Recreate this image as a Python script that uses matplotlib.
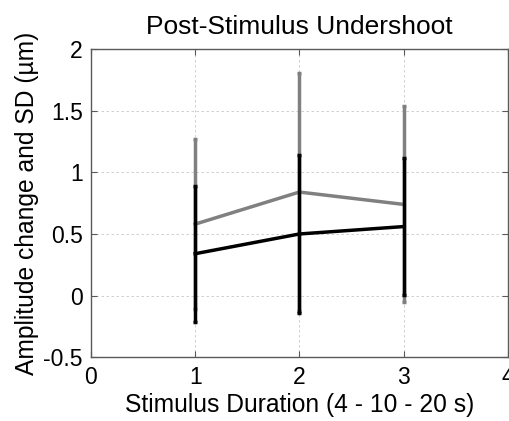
import matplotlib
matplotlib.use("Agg")
import matplotlib.pyplot as plt

# Stimulus duration index (4 s, 10 s, 20 s)
durations = [1, 2, 3]

# Amplitude change and SD, two conditions
gray_mean = [0.58, 0.84, 0.74]
gray_sd = [0.69, 0.965, 0.795]
black_mean = [0.34, 0.50, 0.56]
black_sd = [0.55, 0.64, 0.555]

x_ticks = [0, 1, 2, 3, 4]
y_ticks = [-0.5, 0, 0.5, 1, 1.5, 2]
y_tick_labels = ["-0.5", "0", "0.5", "1", "1.5", "2"]

plt.rcParams["font.family"] = ["Liberation Sans", "DejaVu Sans"]

fig = plt.figure(figsize=(5.1, 4.21), dpi=100)
ax = fig.add_axes([0.1784, 0.1513, 0.8171, 0.7323])

ax.errorbar(durations, gray_mean, yerr=gray_sd, color="#808080", lw=2.5,
            elinewidth=2.5, capsize=1.3, capthick=2.5, zorder=3)
ax.errorbar(durations, black_mean, yerr=black_sd, color="black", lw=2.5,
            elinewidth=2.5, capsize=1.3, capthick=2.5, zorder=4)

ax.set_xlim(0, 4)
ax.set_ylim(-0.5, 2)
ax.set_xticks(x_ticks)
ax.set_yticks(y_ticks)
ax.set_yticklabels(y_tick_labels)

ax.grid(True, color="#c8c8c8", linestyle=(0, (3, 3)), linewidth=0.6)
ax.set_axisbelow(True)
for s in ax.spines.values():
    s.set_color("#5a5a5a")
    s.set_linewidth(1.0)
ax.tick_params(direction="in", length=4, width=0.8, color="#5a5a5a",
               labelsize=16.5, top=True, right=True, pad=6)

ax.set_title("Post-Stimulus Undershoot", fontsize=19, pad=11)
ax.set_xlabel("Stimulus Duration (4 - 10 - 20 s)", fontsize=17.7, labelpad=3.5)
ax.set_ylabel("Amplitude change and SD (\u00b5m)", fontsize=17.7, labelpad=3)

fig.savefig("out.png", dpi=100)
